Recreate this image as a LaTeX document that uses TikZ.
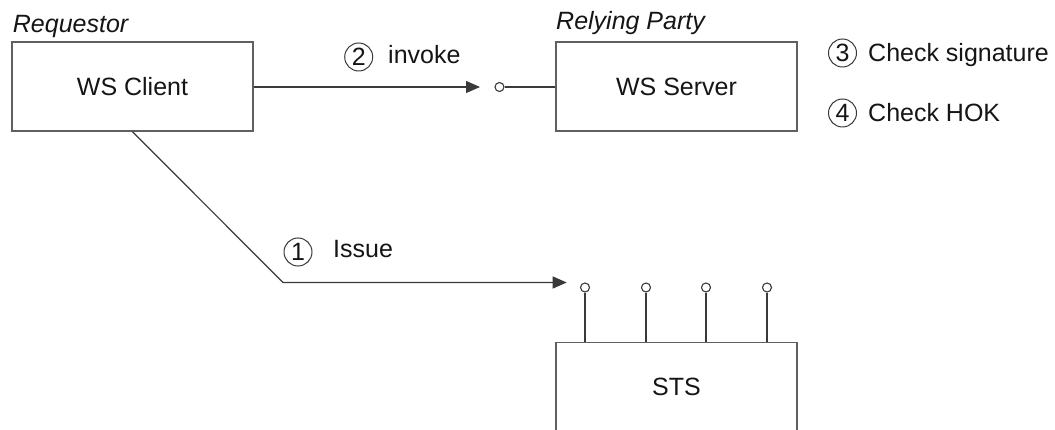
\documentclass[tikz,border=0pt]{standalone}
\usepackage{fontspec}
\setmainfont{Liberation Sans}
\usetikzlibrary{arrows.meta}
\definecolor{boxline}{HTML}{606060}
\definecolor{conline}{HTML}{3A3A3A}
\definecolor{txt}{HTML}{151515}
\tikzset{
  box/.style={draw=boxline, line width=1.5pt, minimum width=241pt, minimum height=89pt, inner sep=0pt, text=txt},
  conn/.style={draw=conline, line width=1.2pt},
  tip/.style={-{Triangle[length=14pt,width=12pt]}},
  port/.style={circle, draw=conline, line width=1.1pt, fill=white, minimum size=9pt, inner sep=0pt},
  num/.style={circle, draw=conline, line width=1pt, minimum size=28pt, inner sep=0pt, text=txt},
  lbl/.style={anchor=base west, inner sep=0pt, text=txt},
}
\begin{document}
\begin{tikzpicture}[x=1pt, y=-1pt, font=\fontsize{25}{30}\selectfont]
\useasboundingbox (0,0) rectangle (1055,430);
\clip (0,0) rectangle (1055,430);
\fill[white] (0,0) rectangle (1055,430);

% boxes
\node[box] (client) at (132.5,86.5) {WS Client};
\node[box] (server) at (676.5,86.5) {WS Server};
\node[box] (sts) at (676.5,387.2) {STS};

% role labels
\node[lbl] (lreq) at (12.7,33) {\itshape Requestor};
\node[lbl] (lrp) at (556,30) {\itshape Relying Party};

% invoke
\coordinate (invend) at (480,87);
\node[port] (sp) at (499.5,87) {};
\draw[conn, tip] (client.east |- invend) -- (invend);
\draw[conn] (sp.east) -- (sp.east -| server.west);
\node[num] (n2) at (358.7,57) {2};
\node[lbl] (linv) at (388,64) {invoke};

% checks
\node[num] (n3) at (842.5,53) {3};
\node[lbl] (lc3) at (868,62) {Check signature};
\node[num] (n4) at (842.5,113) {4};
\node[lbl] (lc4) at (868,122) {Check HOK};

% issue
\coordinate (bend) at (283,282.5);
\coordinate (issend) at (566.7,282.5);
\draw[conn, tip] (client.south) -- (bend) -- (issend);
\node[num] (n1) at (298,252) {1};
\node[lbl] (liss) at (333,258) {Issue};

% STS ports
\foreach \i/\x in {1/585,2/646,3/706,4/767}{
  \node[port] (q\i) at (\x,287.5) {};
  \draw[conn] (q\i.south) -- (q\i.south |- sts.north);
}
\end{tikzpicture}
\end{document}
